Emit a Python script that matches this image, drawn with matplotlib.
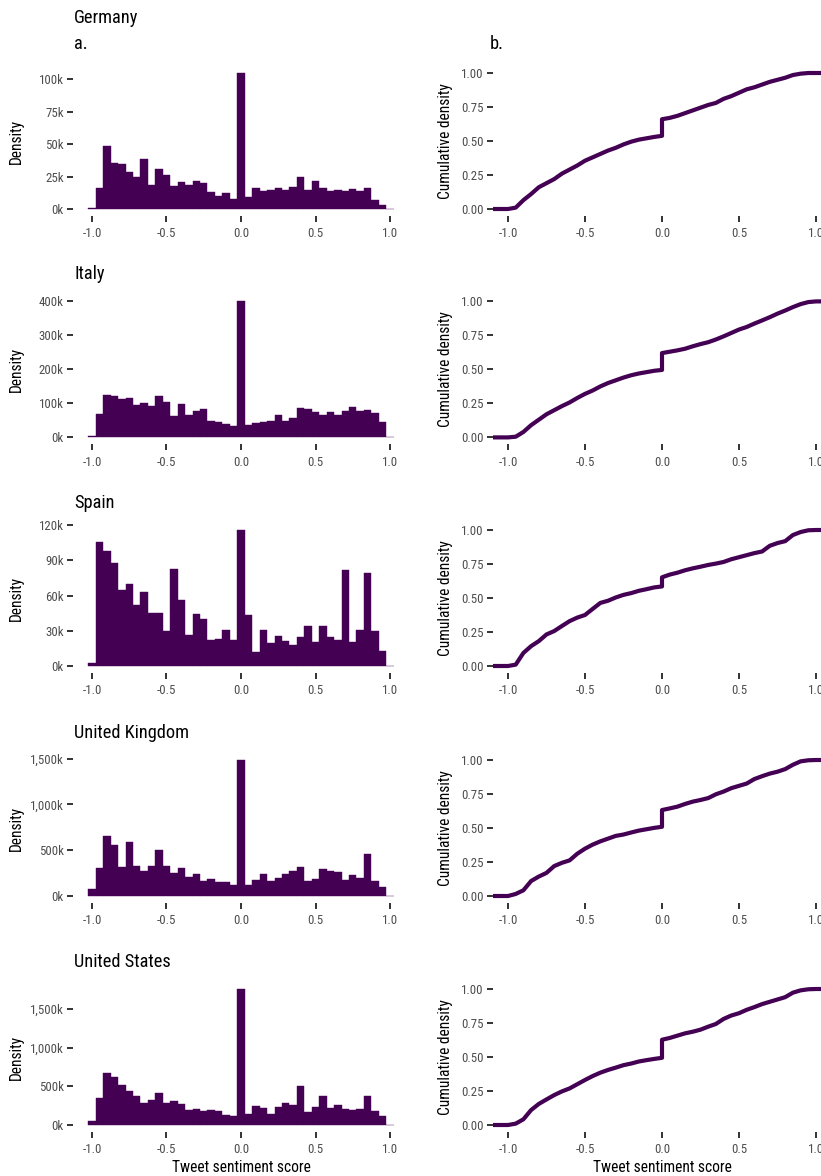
import numpy as np
import matplotlib
matplotlib.use("Agg")
import matplotlib.pyplot as plt
from matplotlib.ticker import FuncFormatter

plt.rcParams['font.family'] = ['Roboto Condensed', 'Roboto', 'DejaVu Sans']

# ---------------- data ----------------
countries = ["Germany", "Italy", "Spain", "United Kingdom", "United States"]

# histogram bins: centres from -1.0 to 1.0, width 0.05 (41 bins)
bin_centers = np.round(np.linspace(-1.0, 1.0, 41), 3)
bin_width = 0.05

# heights in thousands ("Density" axis)
germany_hist = [0.5, 16, 48.5, 35.5, 35, 28.5, 25, 38.5, 18.5, 31, 26.5, 18, 20.5, 18.5, 21.5, 20, 13, 10, 12, 7.5,
                105, 9, 16, 14, 15, 16, 15, 17, 25, 14.5, 22, 16.5, 14, 15, 14, 15.5, 14, 16.5, 7, 3, 0]
italy_hist = [3, 70, 125, 121, 114, 117, 96, 100, 91, 121, 103, 63, 98, 67, 77, 84, 49, 44, 38, 32,
              399, 36, 42, 46, 49, 65, 49, 56, 86, 82, 74, 67, 74, 67, 76, 89, 77, 79, 72, 44, 2]
spain_hist = [2.5, 106, 98, 88, 65, 70, 52, 63, 45.5, 45, 29.5, 83, 56.5, 26.5, 44, 40.5, 22.5, 23, 31, 22.5,
              116, 43.5, 12, 31, 19.5, 25.5, 21.5, 18, 25, 34, 20.5, 34, 25, 22, 82, 20.5, 31, 79, 30, 13, 0.3]
uk_hist = [77, 304, 660, 557, 312, 594, 330, 275, 330, 499, 330, 246, 308, 205, 242, 161, 187, 154, 154, 125,
           1485, 125, 180, 242, 165, 198, 235, 275, 312, 165, 183, 293, 275, 264, 176, 231, 198, 455, 165, 95, 0]
us_hist = [56, 350, 674, 614, 510, 445, 380, 290, 320, 415, 290, 307, 268, 195, 212, 186, 199, 177, 134, 121,
           1755, 147, 251, 225, 138, 238, 281, 264, 506, 164, 233, 380, 225, 255, 203, 195, 207, 380, 186, 112, 3]

hist_yticks = [
    [0, 25, 50, 75, 100],
    [0, 100, 200, 300, 400],
    [0, 30, 60, 90, 120],
    [0, 500, 1000, 1500],
    [0, 500, 1000, 1500],
]

ecdf_x = [-1.1, -1.0, -0.95, -0.9, -0.85, -0.8, -0.75, -0.7, -0.65, -0.6, -0.55, -0.5, -0.45, -0.4, -0.35,
          -0.3, -0.25, -0.2, -0.15, -0.1, -0.05, 0.0, 0.0, 0.05, 0.1, 0.15, 0.2, 0.25, 0.3, 0.35, 0.4, 0.45,
          0.5, 0.55, 0.6, 0.65, 0.7, 0.75, 0.8, 0.85, 0.9, 0.95, 1.0, 1.1]
germany_ecdf = [0, 0, 0.01, 0.065, 0.11, 0.16, 0.19, 0.22, 0.26, 0.29, 0.32, 0.355, 0.38, 0.405, 0.43, 0.45,
                0.475, 0.495, 0.51, 0.52, 0.53, 0.538, 0.66, 0.67, 0.685, 0.705, 0.725, 0.745, 0.765, 0.78,
                0.81, 0.83, 0.855, 0.88, 0.895, 0.915, 0.935, 0.95, 0.965, 0.985, 0.995, 1.0, 1.0, 1.0]
italy_ecdf = [0, 0, 0.005, 0.04, 0.09, 0.13, 0.17, 0.2, 0.23, 0.257, 0.29, 0.32, 0.345, 0.375, 0.4, 0.42,
              0.44, 0.457, 0.47, 0.48, 0.49, 0.496, 0.62, 0.63, 0.64, 0.652, 0.67, 0.686, 0.70, 0.72, 0.743,
              0.768, 0.793, 0.812, 0.837, 0.86, 0.884, 0.91, 0.933, 0.958, 0.98, 0.995, 1.0, 1.0]
spain_ecdf = [0, 0, 0.01, 0.096, 0.146, 0.183, 0.232, 0.257, 0.294, 0.33, 0.356, 0.375, 0.42, 0.464, 0.48,
              0.504, 0.523, 0.536, 0.553, 0.565, 0.578, 0.585, 0.652, 0.672, 0.686, 0.704, 0.718, 0.73,
              0.743, 0.753, 0.765, 0.785, 0.8, 0.815, 0.83, 0.842, 0.884, 0.904, 0.918, 0.963, 0.985,
              0.998, 1.0, 1.0]
uk_ecdf = [0, 0, 0.015, 0.042, 0.11, 0.143, 0.17, 0.22, 0.244, 0.262, 0.311, 0.348, 0.378, 0.402, 0.422,
           0.442, 0.452, 0.467, 0.481, 0.491, 0.501, 0.509, 0.632, 0.644, 0.657, 0.677, 0.694, 0.706, 0.72,
           0.748, 0.768, 0.793, 0.81, 0.827, 0.86, 0.881, 0.9, 0.914, 0.933, 0.965, 0.99, 0.998, 1.0, 1.0]
us_ecdf = [0, 0, 0.01, 0.042, 0.11, 0.155, 0.188, 0.22, 0.247, 0.269, 0.3, 0.331, 0.36, 0.385, 0.405,
           0.422, 0.44, 0.452, 0.467, 0.477, 0.486, 0.494, 0.627, 0.64, 0.657, 0.674, 0.686, 0.701, 0.723,
           0.743, 0.78, 0.805, 0.822, 0.847, 0.867, 0.889, 0.906, 0.923, 0.94, 0.973, 0.99, 0.998, 1.0, 1.0]

hists = [germany_hist, italy_hist, spain_hist, uk_hist, us_hist]
ecdfs = [germany_ecdf, italy_ecdf, spain_ecdf, uk_ecdf, us_ecdf]

x_ticks = [-1.0, -0.5, 0.0, 0.5, 1.0]
ecdf_yticks = [0.0, 0.25, 0.5, 0.75, 1.0]

# ---------------- style ----------------
PURPLE = "#440154"
TICK_LABEL = "#4d4d4d"
TICK_COLOR = "#333333"
W, H = 821, 1176
DPI = 100

fig = plt.figure(figsize=(W / DPI, H / DPI), dpi=DPI)
fig.patch.set_facecolor("white")


def add_ax(x0, top, w, h):
    return fig.add_axes([x0 / W, 1 - (top + h) / H, w / W, h / H])


def style(ax):
    for s in ax.spines.values():
        s.set_visible(False)
    ax.tick_params(axis="both", which="major", direction="out", length=4.2, width=1.4,
                   color=TICK_COLOR, labelsize=9.3, labelcolor=TICK_LABEL)
    ax.tick_params(axis="x", pad=4.0)
    ax.tick_params(axis="y", pad=2.5)
    ax.set_facecolor("white")


panel_tops = [66.2, 294.6, 523.2, 753.2, 982.2]
panel_h = 149.6
left_x0, left_w = 73.0, 336.0
right_x0, right_w = 492.6, 338.8

title_font = 13.2
axis_font = 11.2


def kfmt(v, pos):
    return f"{int(round(v)):,}k"


for i, name in enumerate(countries):
    top = panel_tops[i]
    # ---- histogram ----
    ax = add_ax(left_x0, top, left_w, panel_h)
    style(ax)
    vals = hists[i]
    ax.bar(bin_centers, vals, width=bin_width, align="center", color=PURPLE,
           edgecolor=PURPLE, linewidth=0.3)
    m = max(vals)
    ax.set_ylim(-0.05 * m, 1.05 * m)
    lo, hi = -1.025, 1.025
    ax.set_xlim(lo - 0.05 * (hi - lo), hi + 0.05 * (hi - lo))
    ax.set_xticks(x_ticks)
    ax.set_xticklabels([f"{t:.1f}" for t in x_ticks])
    ax.set_yticks(hist_yticks[i])
    ax.yaxis.set_major_formatter(FuncFormatter(kfmt))

    # ---- ecdf ----
    ax2 = add_ax(right_x0, top, right_w, panel_h)
    style(ax2)
    ax2.plot(ecdf_x, ecdfs[i], color=PURPLE, linewidth=3.0, solid_capstyle="butt",
             solid_joinstyle="round")
    ax2.set_xlim(-1.1, 1.1)
    ax2.set_ylim(-0.05, 1.05)
    ax2.set_xticks(x_ticks)
    ax2.set_xticklabels([f"{t:.1f}" for t in x_ticks])
    ax2.set_yticks(ecdf_yticks)
    ax2.set_yticklabels([f"{t:.2f}" for t in ecdf_yticks])

    # y axis titles
    mid = top + panel_h / 2
    fig.text(16 / W, 1 - mid / H, "Density", rotation=90, ha="center", va="center",
             fontsize=axis_font, color="black")
    fig.text(445 / W, 1 - mid / H, "Cumulative density", rotation=90, ha="center", va="center",
             fontsize=axis_font, color="black")

    # country titles
    if i == 0:
        fig.text(74 / W, 1 - 22.7 / H, name, ha="left", va="baseline", fontsize=title_font, color="black")
        fig.text(74 / W, 1 - 49.0 / H, "a.", ha="left", va="baseline", fontsize=title_font, color="black")
        fig.text(490 / W, 1 - 49.0 / H, "b.", ha="left", va="baseline", fontsize=title_font, color="black")
    else:
        fig.text(74 / W, 1 - (top - 15.2) / H, name, ha="left", va="baseline", fontsize=title_font,
                 color="black")

# bottom x axis titles
fig.text((left_x0 + left_w / 2) / W, 1 - 1172.5 / H, "Tweet sentiment score", ha="center",
         va="baseline", fontsize=axis_font, color="black")
fig.text((right_x0 + right_w / 2) / W, 1 - 1172.5 / H, "Tweet sentiment score", ha="center",
         va="baseline", fontsize=axis_font, color="black")

fig.savefig("out.png", dpi=DPI, facecolor="white")
